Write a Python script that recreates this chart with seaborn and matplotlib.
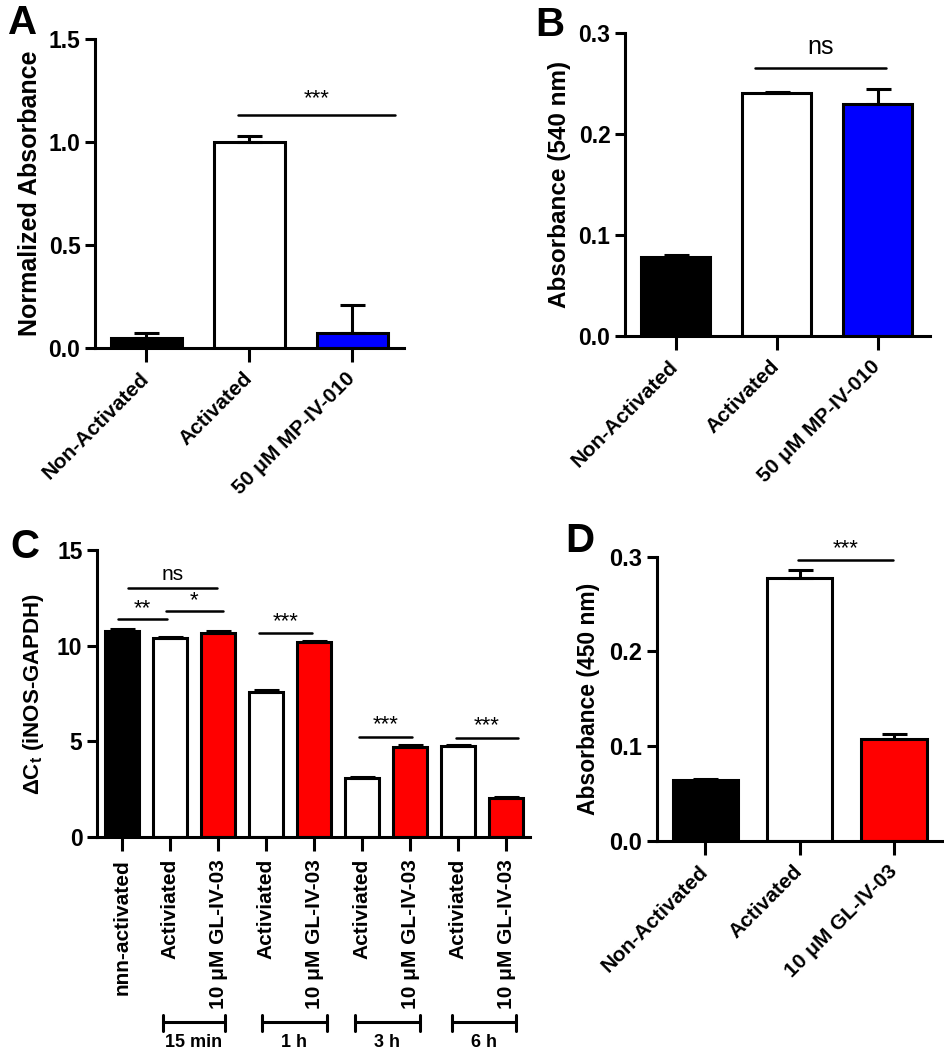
import matplotlib
matplotlib.use("Agg")
import matplotlib.pyplot as plt
import seaborn as sns
import numpy as np

sns.set_style("ticks")
plt.rcParams['font.family'] = ['Liberation Sans', 'DejaVu Sans']
plt.rcParams['font.weight'] = 'bold'
plt.rcParams['axes.labelweight'] = 'bold'
plt.rcParams['text.color'] = 'black'
plt.rcParams['axes.labelcolor'] = 'black'
plt.rcParams['axes.edgecolor'] = 'black'
plt.rcParams['xtick.color'] = 'black'
plt.rcParams['ytick.color'] = 'black'
plt.rcParams['mathtext.fontset'] = 'custom'
plt.rcParams['mathtext.rm'] = 'Liberation Sans:bold'
plt.rcParams['mathtext.it'] = 'Liberation Sans:bold'
plt.rcParams['mathtext.bf'] = 'Liberation Sans:bold'

# Panel A - normalized absorbance
a_labels = ["Non-Activated", "Activated", "50 μM MP-IV-010"]
a_values = [0.05, 1.00, 0.075]
a_errors = [0.025, 0.03, 0.135]
a_colors = ["black", "white", "#0000ff"]

# Panel B - absorbance 540 nm
b_labels = ["Non-Activated", "Activated", "50 μM MP-IV-010"]
b_values = [0.078, 0.241, 0.230]
b_errors = [0.002, 0.001, 0.015]
b_colors = ["black", "white", "#0000ff"]

# Panel C - delta Ct iNOS-GAPDH
c_labels = ["nnn-activated", "Activiated", "10 μM GL-IV-03",
            "Activiated", "10 μM GL-IV-03", "Activiated", "10 μM GL-IV-03",
            "Activiated", "10 μM GL-IV-03"]
c_values = [10.75, 10.42, 10.66, 7.56, 10.17, 3.06, 4.72, 4.77, 2.04]
c_errors = [0.10, 0.04, 0.10, 0.10, 0.05, 0.10, 0.08, 0.05, 0.05]
c_colors = ["black", "white", "#ff0000", "white", "#ff0000",
            "white", "#ff0000", "white", "#ff0000"]
c_groups = ["15 min", "1 h", "3 h", "6 h"]

# Panel D - absorbance 450 nm
d_labels = ["Non-Activated", "Activated", "10 μM GL-IV-03"]
d_values = [0.064, 0.278, 0.107]
d_errors = [0.001, 0.008, 0.006]
d_colors = ["black", "white", "#ff0000"]

LW = 2.2


def draw_bars(ax, values, errors, colors, width=0.69):
    x = np.arange(len(values))
    sns.barplot(x=x, y=values, hue=x, palette=colors, legend=False,
                width=width, saturation=1, edgecolor="black",
                linewidth=LW, ax=ax)
    ax.errorbar(x, values, yerr=[np.zeros(len(x)), errors], fmt="none",
                ecolor="black", elinewidth=LW, capsize=9, capthick=LW,
                zorder=1)
    sns.despine(ax=ax)
    for s in ["left", "bottom"]:
        ax.spines[s].set_linewidth(LW)
    ax.tick_params(width=LW, length=7, labelsize=16.5)
    ax.set_xlabel("")


def sig(ax, x0, x1, y, text, ty, size=16):
    ax.plot([x0, x1], [y, y], color="black", lw=1.8, clip_on=False)
    ax.text((x0 + x1) / 2, ty, text, ha="center", va="center",
            fontsize=size, fontweight="normal", clip_on=False)


fig = plt.figure(figsize=(9.44, 10.5), dpi=100)

# ---- A ----
axA = fig.add_axes([0.1006, 0.6686, 0.3273, 0.2943])
draw_bars(axA, a_values, a_errors, a_colors)
axA.set_ylim(0, 1.5)
axA.set_xlim(-0.5, 2.5)
axA.set_yticks([0, 0.5, 1.0, 1.5], ["0.0", "0.5", "1.0", "1.5"])
axA.set_xticks(range(3))
axA.set_xticklabels(a_labels, rotation=45, ha="right", va="center",
                    rotation_mode="anchor", fontsize=15)
axA.tick_params(axis="x", length=10, pad=10)
axA.set_ylabel("Normalized Absorbance", fontsize=18, labelpad=5)
sig(axA, 0.89, 2.41, 1.13, "***", 1.21)

# ---- B ----
axB = fig.add_axes([0.6621, 0.68, 0.3231, 0.2886])
draw_bars(axB, b_values, b_errors, b_colors)
axB.set_ylim(0, 0.3)
axB.set_xlim(-0.5, 2.52)
axB.set_yticks([0, 0.1, 0.2, 0.3], ["0.0", "0.1", "0.2", "0.3"])
axB.set_xticks(range(3))
axB.set_xticklabels(b_labels, rotation=45, ha="right", va="center",
                    rotation_mode="anchor", fontsize=15)
axB.tick_params(axis="x", length=10, pad=10)
axB.set_ylabel("Absorbance (540 nm)", fontsize=17.5, labelpad=5)
sig(axB, 0.79, 2.08, 0.265, "ns", 0.286, size=18)

# ---- C ----
axC = fig.add_axes([0.1028, 0.2029, 0.4587, 0.2733])
draw_bars(axC, c_values, c_errors, c_colors, width=0.7)
axC.set_ylim(0, 15)
axC.set_xlim(-0.52, 8.5)
axC.set_yticks([0, 5, 10, 15])
axC.set_xticks(range(len(c_labels)))
axC.set_xticklabels(c_labels, rotation=90, ha="center", va="top", fontsize=15)
axC.tick_params(axis="x", length=10, pad=6)
axC.set_ylabel(r"ΔC$_{t}$ (iNOS-GAPDH)", fontsize=16, labelpad=8)
sig(axC, 0.125, 1.98, 13.03, "ns", 13.7, size=15)
sig(axC, -0.08, 0.94, 11.38, "**", 11.95)
sig(axC, 0.92, 2.10, 11.81, "*", 12.35)
sig(axC, 2.86, 3.96, 10.68, "***", 11.25)
sig(axC, 4.94, 6.05, 5.24, "***", 5.85)
sig(axC, 6.95, 8.25, 5.17, "***", 5.8)

# time brackets under panel C
bracket_x = [(0.85, 2.15), (2.92, 4.26), (4.86, 6.20), (6.88, 8.20)]
trans = axC.get_xaxis_transform()
for (x0, x1), name in zip(bracket_x, c_groups):
    axC.plot([x0, x1], [-0.645, -0.645], color="black", lw=2.2,
             transform=trans, clip_on=False)
    for xx in (x0, x1):
        axC.plot([xx, xx], [-0.62, -0.675], color="black", lw=2.2,
                 transform=trans, clip_on=False)
    axC.text((x0 + x1) / 2, -0.715, name, ha="center", va="center",
             fontsize=13, transform=trans)

# ---- D ----
axD = fig.add_axes([0.696, 0.1993, 0.303, 0.2705])
draw_bars(axD, d_values, d_errors, d_colors)
axD.set_ylim(0, 0.3)
axD.set_xlim(-0.51, 2.52)
axD.set_yticks([0, 0.1, 0.2, 0.3], ["0.0", "0.1", "0.2", "0.3"])
axD.set_xticks(range(3))
axD.set_xticklabels(d_labels, rotation=45, ha="right", va="center",
                    rotation_mode="anchor", fontsize=15)
axD.tick_params(axis="x", length=10, pad=10)
axD.tick_params(axis="y", labelsize=17)
axD.set_ylabel("Absorbance (450 nm)", fontsize=16.5, labelpad=7)
sig(axD, 0.98, 1.99, 0.297, "***", 0.309)

# panel letters
for x, y, letter in [(8, 4, "A"), (535, 6, "B"), (10, 528, "C"), (565, 522, "D")]:
    fig.text(x / 944, 1 - y / 1050, letter, fontsize=29, fontweight="bold",
             ha="left", va="top")

fig.savefig("out.png", dpi=100)
